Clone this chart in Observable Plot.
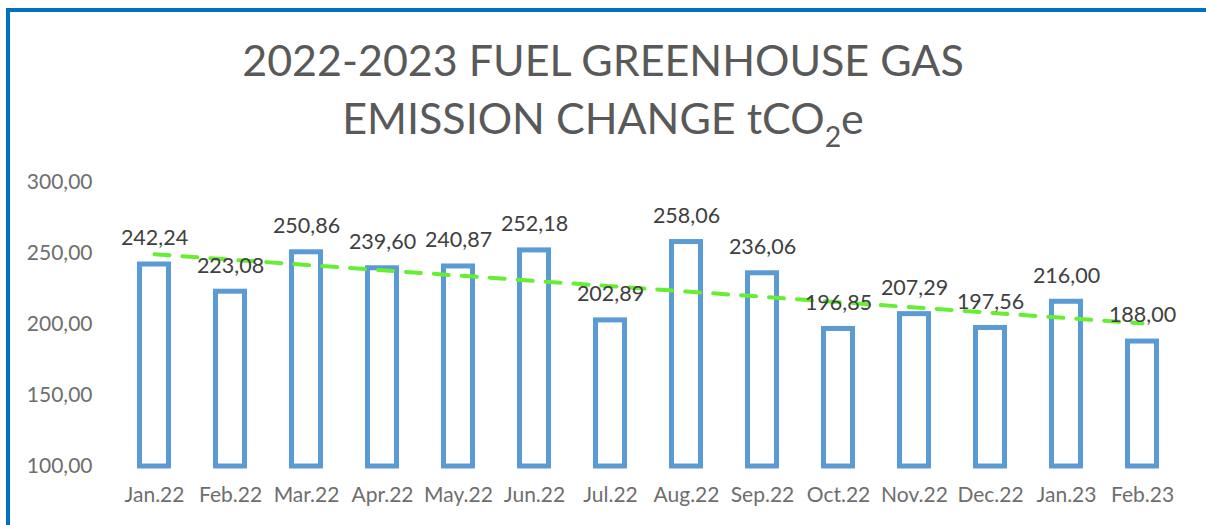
<!DOCTYPE html>
<html>
<head>
<meta charset="utf-8">
<script src="https://cdn.jsdelivr.net/npm/d3@7"></script>
<script src="https://cdn.jsdelivr.net/npm/@observablehq/plot@0.6"></script>
<style>
  html, body { margin: 0; padding: 0; background: #fff; }
  #wrap { position: relative; width: 1206px; height: 525px; overflow: hidden; font-family: Lato, "Open Sans", sans-serif; }
  #frame { position: absolute; left: 6px; top: 8px; width: 1300px; height: 700px; border: 4px solid #0070C0; box-sizing: border-box; pointer-events: none; }
  #title { position: relative; height: 150px; text-align: center; color: #595959; font-size: 43px; line-height: 58px; padding-top: 31px; box-sizing: border-box; letter-spacing: 0px; }
  #title sub { font-size: 0.66em; vertical-align: -0.45em; line-height: 0; }
  svg { display: block; }
</style>
</head>
<body>
<div id="wrap">
  <div id="frame"></div>
  <div id="title">2022-2023 FUEL GREENHOUSE GAS<br>EMISSION CHANGE tCO<sub>2</sub>e</div>
  <div id="chart"></div>
</div>
<script>
const months = ["Jan.22","Feb.22","Mar.22","Apr.22","May.22","Jun.22","Jul.22","Aug.22","Sep.22","Oct.22","Nov.22","Dec.22","Jan.23","Feb.23"];
const emissions = [242.24,223.08,250.86,239.60,240.87,252.18,202.89,258.06,236.06,196.85,207.29,197.56,216.00,188.00];
const yTicks = [100,150,200,250,300];

const data = months.map((m, i) => ({month: m, value: emissions[i], i}));

// linear trend line (least squares over category index), as the spreadsheet does
const mx = d3.mean(data, d => d.i), my = d3.mean(data, d => d.value);
const slope = d3.sum(data, d => (d.i - mx) * (d.value - my)) / d3.sum(data, d => (d.i - mx) ** 2);
const trend = data.map(d => ({month: d.month, value: my + slope * (d.i - mx)}));

const fmt = v => v.toFixed(2).replace(".", ",");

const chart = Plot.plot({
  width: 1206,
  height: 375,
  marginTop: 32,
  marginBottom: 59,
  marginLeft: 114,
  marginRight: 25,
  style: {fontFamily: "Lato, 'Open Sans', sans-serif", background: "transparent", overflow: "visible"},
  x: {domain: months, padding: 0, label: null},
  y: {domain: [100, 300], label: null},
  marks: [
    Plot.axisY({ticks: yTicks, tickSize: 0, tickPadding: 22, tickFormat: fmt, fontSize: 21, fill: "#6e6e6e", label: null}),
    Plot.axisX({tickSize: 0, tickPadding: 21, fontSize: 21, fill: "#6e6e6e", label: null}),
    Plot.barY(data, {x: "month", y1: 100, y2: "value", fill: "white", stroke: "#5B9BD5", strokeWidth: 5, insetLeft: 23.5, insetRight: 23.5}),
    Plot.line(trend, {x: "month", y: "value", stroke: "#66EE33", strokeWidth: 4, strokeDasharray: "15,13", strokeLinecap: "round"}),
    Plot.text(data, {x: "month", y: "value", text: d => fmt(d.value), dy: -26, fontSize: 21.5, fill: "#404040"})
  ]
});
document.getElementById("chart").appendChild(chart);
</script>
</body>
</html>
